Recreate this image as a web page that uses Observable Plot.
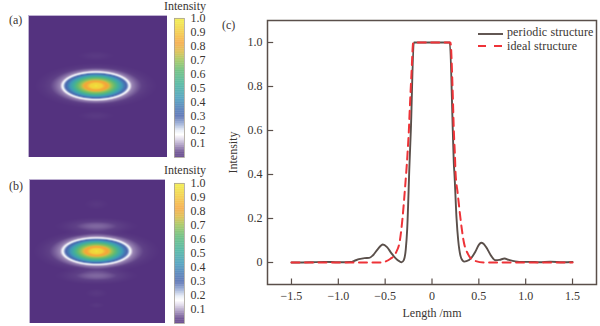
<!DOCTYPE html>
<html><head><meta charset="utf-8">
<script src="https://cdn.jsdelivr.net/npm/d3@7"></script>
<script src="https://cdn.jsdelivr.net/npm/@observablehq/plot@0.6"></script>
<style>
html,body{margin:0;padding:0;background:#fff}
#root{position:relative;width:600px;height:326px;overflow:hidden;font-family:"Liberation Serif",serif;color:#3a3532}
#root>svg,#root>div{position:absolute}
.t{font-size:12px;line-height:12px;white-space:nowrap}
</style></head><body><div id="root"></div>
<script>
// Colour ramp
const rampStops=[0,0.035,0.09,0.13,0.16,0.19,0.24,0.29,0.35,0.42,0.52,0.62,0.70,0.76,0.82,0.90,0.97,1];
const rampColors=["#54327f","#5f4187","#a998c0","#e0daea","#ffffff","#e6ebf6","#8ea3d0","#4c66ad","#4576b3","#3f97b9","#42b09a","#5fb974","#9fc254","#dcb840","#f5a53a","#f2c93a","#f0e43a","#f0e83a"];
// Heatmap contours: level, semi-axes
const levelsA=[1,0.93,0.8,0.62,0.45,0.33,0.25,0.16,0.08,0.05,0.015,0];
const semiXA=[0.5,6,12,19,25,29.5,31.5,33.5,36,42,52,62];
const semiYA=[0.3,2.7,5,8,10.3,12,12.6,13.9,15.3,17,19.5,23];
const lobeCA=[-30,30];
const lobeSXA=[22,22];
const lobeSYA=[6,6];
const lobePA=[0.018,0.018];
const levelsB=[1,0.93,0.8,0.62,0.45,0.33,0.25,0.16,0.08,0.05,0.015,0];
const semiXB=[0.5,6,12,19,25,29.5,31.8,33.8,36.5,43,54,64];
const semiYB=[0.3,2.6,4.8,7.7,10,11.6,12.2,13.4,14.8,16.5,18.5,22];
const lobeCB=[-25,24.5,-47,42,54];
const lobeSXB=[46,46,15,14,10];
const lobeSYB=[10,10,7,6,4];
const lobePB=[0.06,0.06,0.014,0.016,0.014];
// Colour bar
const barTicks=[0.1,0.2,0.3,0.4,0.5,0.6,0.7,0.8,0.9,1.0];
const barLevels=d3.range(0,1,0.005);
// Line profiles
const periodicX=[-1.5,-1.3,-1.15,-1.0,-0.87,-0.82,-0.78,-0.72,-0.67,-0.63,-0.58,-0.525,-0.48,-0.43,-0.39,-0.35,-0.325,-0.30,-0.28,-0.265,-0.24,-0.226,-0.194,0.19,0.222,0.233,0.24,0.262,0.28,0.304,0.325,0.347,0.368,0.418,0.464,0.50,0.525,0.55,0.578,0.632,0.678,0.72,0.774,0.82,0.93,1.05,1.15,1.26,1.4,1.5];
const periodicY=[0,0.001,0.003,0.001,0.002,0.009,0.015,0.02,0.021,0.033,0.06,0.082,0.07,0.04,0.02,0.006,0.001,0.012,0.06,0.15,0.45,0.6,1,1,0.6,0.45,0.4,0.2,0.1,0.03,0.01,0.004,0.006,0.02,0.05,0.08,0.09,0.085,0.07,0.03,0.01,0.012,0.018,0.012,0.003,0.003,0.001,0.004,0.001,0.002];
const idealX=[-1.5,-0.6,-0.55,-0.443,-0.382,-0.343,-0.315,-0.29,-0.262,-0.247,-0.237,-0.22,-0.2,0.197,0.219,0.233,0.247,0.25,0.275,0.304,0.34,0.382,0.446,0.553,0.6,1.5];
const idealY=[0,0,0,0.017,0.047,0.1,0.2,0.327,0.49,0.6,0.7,0.85,1,1,0.8,0.6,0.46,0.418,0.312,0.2,0.092,0.04,0.01,0,0,0];
const xTicks=[-1.5,-1,-0.5,0,0.5,1,1.5];
const yTicks=[0,0.2,0.4,0.6,0.8,1];
const axisColor="#5a4f4a";
const root=document.getElementById("root");
const color={type:"linear",domain:rampStops,range:rampColors,interpolate:"rgb",clamp:true};
function place(el,left,top){el.style.left=left+"px";el.style.top=top+"px";root.appendChild(el);return el}
function fieldOf(levels,sx,sy,lc,lsx,lsy,lp){
  return (x,y)=>{
    let v=0;
    for(let i=0;i<levels.length;i++){
      const r=Math.hypot(x/sx[i],y/sy[i]);
      if(r<=1){
        if(i===0){v=levels[0];break}
        const q=Math.hypot(x/sx[i-1],y/sy[i-1]);
        v=levels[i]+(levels[i-1]-levels[i])*(1-r)/(q-r);
        break;
      }
    }
    lc.forEach((c,k)=>{
      const r=Math.hypot(x/lsx[k],(y-c)/lsy[k]);
      if(r<1) v+=lp[k]*Math.cos(r*Math.PI/2)**2;
    });
    return v;
  };
}
function heat(field,xd,yd,left,top,w,h){
  place(Plot.plot({width:w,height:h,margin:0,style:{background:"none"},
    x:{domain:xd,axis:null},y:{domain:yd,axis:null},color,
    marks:[
      Plot.raster({fill:field,x1:xd[0],x2:xd[1],y1:yd[0],y2:yd[1],pixelSize:1}),
      Plot.frame({stroke:"#bfb2d2",strokeWidth:1})
    ]}),left,top);
}
function bar(left,top,h){
  place(Plot.plot({width:44,height:h+16,marginLeft:1,marginRight:33,marginTop:8,marginBottom:8,style:{background:"none",overflow:"visible"},
    x:{domain:[0,1],axis:null},y:{domain:[0,1],axis:null},color,
    marks:[
      Plot.rect(barLevels,{x1:0,x2:1,y1:d=>d,y2:d=>d+0.0055,fill:d=>d}),
      Plot.frame({stroke:"#a8a299",strokeWidth:0.8}),
      Plot.text(barTicks,{x:1,y:d=>d,text:d=>d.toFixed(1),textAnchor:"start",dx:6,fontSize:12,fontFamily:"Liberation Serif",fill:"#3a3532"})
    ]}),left,top-8);
}
function label(s,left,top){const d=document.createElement("div");d.className="t";d.textContent=s;place(d,left,top);return d}

heat(fieldOf(levelsA,semiXA,semiYA,lobeCA,lobeSXA,lobeSYA,lobePA),[-67.5,71.5],[71.7,-70.3],28,15,139,142);
heat(fieldOf(levelsB,semiXB,semiYB,lobeCB,lobeSXB,lobeSYB,lobePB),[-67,69],[72.3,-71.7],29,179,136,144);
bar(173,18,139);
bar(173,183,140);
label("Intensity",164,0);
label("Intensity",164,164);
label("(a)",9,14);
label("(b)",9,180);
label("(c)",222,19);

const profile=(xs,ys)=>xs.map((x,i)=>({x,y:ys[i]}));
place(Plot.plot({width:380,height:326,marginLeft:47,marginRight:4,marginTop:20,marginBottom:42,style:{background:"none",fontFamily:"Liberation Serif",fontSize:"12px",color:"#3a3532"},
  x:{domain:[-1.756,1.756]},y:{domain:[-0.1,1.1]},
  marks:[
    Plot.ruleX(xTicks,{x:d=>d,y1:-0.1,y2:-0.075,stroke:axisColor,strokeWidth:1.2}),
    Plot.ruleY(yTicks,{y:d=>d,x1:-1.756,x2:-1.69,stroke:axisColor,strokeWidth:1.2}),
    Plot.axisX(xTicks,{anchor:"bottom",tickSize:0,tickPadding:7,label:"Length /mm",labelAnchor:"center",labelArrow:"none",labelOffset:32,tickFormat:d=>d===0?"0":d3.format(".1f")(d),fontSize:12,fill:"#3a3532"}),
    Plot.axisY(yTicks,{anchor:"left",tickSize:0,tickPadding:5,label:"Intensity",labelAnchor:"center",labelArrow:"none",labelOffset:39,tickFormat:d=>d===0?"0":d.toFixed(1),fontSize:12,fill:"#3a3532"}),
    Plot.line(profile(periodicX,periodicY),{x:"x",y:"y",stroke:axisColor,strokeWidth:1.9,curve:"monotone-x"}),
    Plot.line(profile(idealX,idealY),{x:"x",y:"y",stroke:"#ee3338",strokeWidth:2,strokeDasharray:"8,5.5",curve:"monotone-x"}),
    Plot.frame({stroke:axisColor,strokeWidth:1.5})
  ]}),220,0);

const legendSvg=document.createElementNS("http://www.w3.org/2000/svg","svg");
legendSvg.setAttribute("width","30");legendSvg.setAttribute("height","24");
legendSvg.innerHTML=`<line x1="1" x2="26" y1="6" y2="6" stroke="${axisColor}" stroke-width="1.9"/><line x1="1" x2="26" y1="18" y2="18" stroke="#ee3338" stroke-width="2" stroke-dasharray="8,8"/>`;
place(legendSvg,477,28);
const l1=label("periodic structure",507,26),l2=label("ideal structure",507,40);
l1.style.letterSpacing=l2.style.letterSpacing="0.12px";
</script></body></html>
